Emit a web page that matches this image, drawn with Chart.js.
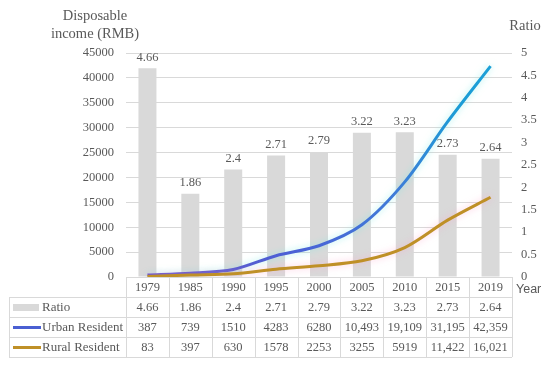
<!DOCTYPE html>
<html>
<head>
<meta charset="utf-8">
<script src="https://cdn.jsdelivr.net/npm/chart.js@4/dist/chart.umd.min.js"></script>
<style>
html,body{margin:0;padding:0;background:#fff}
#wrap{width:550px;height:366px}
</style>
</head>
<body>
<div id="wrap"><canvas id="income"></canvas></div>
<script>
let years=['1979','1985','1990','1995','2000','2005','2010','2015','2019'];
let ratio=[4.66,1.86,2.4,2.71,2.79,3.22,3.23,2.73,2.64];
let urban=[387,739,1510,4283,6280,10493,19109,31195,42359];
let rural=[83,397,630,1578,2253,3255,5919,11422,16021];

let serif='"Liberation Serif", "DejaVu Serif", serif';
let grey='#595959';
let gridCol='#d9d9d9';
let barCol='#d9d9d9';
let ruralCol='#bf9027';

function fmt(n){
    return n>=10000 ? n.toLocaleString('en-US') : String(n);
}

function urbanGrad(c){
    let area=c.chart.chartArea;
    if(!area) return '#4a6cd4';
    let g=c.chart.ctx.createLinearGradient(area.left,0,area.right,0);
    g.addColorStop(0,'#6650c8');
    g.addColorStop(0.45,'#4a62d6');
    g.addColorStop(0.7,'#3f7cd8');
    g.addColorStop(0.85,'#1d9bd6');
    g.addColorStop(1,'#1aa3d8');
    return g;
}

// soft glow behind the two lines
let glow={
    id:'glow',
    beforeDatasetDraw(chart,args){
        let ds=chart.data.datasets[args.index];
        if(ds.type!=='line') return;
        let ctx=chart.ctx;
        ctx.save();
        ctx.shadowColor=ds.glowColor;
        ctx.shadowBlur=7;
    },
    afterDatasetDraw(chart,args){
        let ds=chart.data.datasets[args.index];
        if(ds.type!=='line') return;
        chart.ctx.restore();
    }
};

// ratio labels over the bars + axis titles
let labels={
    id:'labels',
    afterDatasetsDraw(chart){
        let ctx=chart.ctx;
        let meta=chart.getDatasetMeta(0);
        ctx.save();
        ctx.fillStyle=grey;
        ctx.font='12.5px '+serif;
        ctx.textAlign='center';
        ctx.textBaseline='middle';
        meta.data.forEach((bar,i)=>{
            ctx.fillText(String(ratio[i]),bar.x,bar.y-11);
        });
        ctx.font='14.5px '+serif;
        ctx.fillText('Disposable',95,16);
        ctx.fillText('income (RMB)',95,34);
        ctx.fillText('Ratio',525,26);
        ctx.font='12.5px "Liberation Sans", Arial, sans-serif';
        ctx.textAlign='left';
        ctx.fillText('Year',516,290);
        ctx.restore();
    }
};

// data table under the plot
let table={
    id:'table',
    afterDraw(chart){
        let ctx=chart.ctx;
        let a=chart.chartArea;
        let xs=chart.scales.x;
        let step=(a.right-a.left)/years.length;
        let left=9;
        let rows=[a.bottom,a.bottom+20,a.bottom+40,a.bottom+60,a.bottom+80];
        ctx.save();
        ctx.strokeStyle=gridCol;
        ctx.lineWidth=1;
        ctx.beginPath();
        ctx.moveTo(a.left,rows[0]+0.5);ctx.lineTo(a.right,rows[0]+0.5);
        for(let r=1;r<rows.length;r++){
            ctx.moveTo(left,rows[r]+0.5);ctx.lineTo(a.right,rows[r]+0.5);
        }
        ctx.moveTo(left+0.5,rows[1]);ctx.lineTo(left+0.5,rows[4]);
        for(let i=0;i<=years.length;i++){
            let x=Math.round(a.left+i*step)+0.5;
            ctx.moveTo(x,rows[0]);ctx.lineTo(x,rows[4]);
        }
        ctx.stroke();

        ctx.fillStyle=grey;
        ctx.font='12.5px '+serif;
        ctx.textAlign='center';
        ctx.textBaseline='middle';
        years.forEach((y,i)=>{
            let x=xs.getPixelForValue(i);
            ctx.fillText(y,x,rows[0]+10.5);
            ctx.fillText(String(ratio[i]),x,rows[1]+10.5);
            ctx.fillText(fmt(urban[i]),x,rows[2]+10.5);
            ctx.fillText(fmt(rural[i]),x,rows[3]+10.5);
        });

        // legend keys
        ctx.fillStyle=barCol;
        ctx.fillRect(13,rows[1]+7,26,7);
        ctx.lineWidth=3;
        ctx.strokeStyle='#4a5fd2';
        ctx.beginPath();ctx.moveTo(13,rows[2]+10.5);ctx.lineTo(41,rows[2]+10.5);ctx.stroke();
        ctx.strokeStyle=ruralCol;
        ctx.beginPath();ctx.moveTo(13,rows[3]+10.5);ctx.lineTo(41,rows[3]+10.5);ctx.stroke();

        ctx.fillStyle=grey;
        ctx.font='13px '+serif;
        ctx.textAlign='left';
        ctx.fillText('Ratio',42,rows[1]+10.5);
        ctx.fillText('Urban Resident',42,rows[2]+10.5);
        ctx.fillText('Rural Resident',42,rows[3]+10.5);
        ctx.restore();
    }
};

let ctx1=document.getElementById('income').getContext('2d');
let chart1=new Chart(ctx1,{
    data:{
        labels:years,
        datasets:[
            {
                type:'bar',
                label:'Ratio',
                data:ratio,
                yAxisID:'y1',
                backgroundColor:barCol,
                barPercentage:0.42,
                categoryPercentage:1,
                order:2
            },
            {
                type:'line',
                label:'Urban Resident',
                data:urban,
                yAxisID:'y',
                borderColor:urbanGrad,
                glowColor:'rgba(110,235,225,0.55)',
                borderWidth:3,
                pointRadius:0,
                tension:0.3,
                order:1
            },
            {
                type:'line',
                label:'Rural Resident',
                data:rural,
                yAxisID:'y',
                borderColor:ruralCol,
                glowColor:'rgba(255,160,200,0.55)',
                borderWidth:3,
                pointRadius:0,
                tension:0.3,
                order:0
            }
        ]
    },
    options:{
        responsive:true,
        maintainAspectRatio:false,
        animation:false,
        layout:{padding:{top:53,bottom:89,left:0,right:0}},
        plugins:{legend:{display:false},tooltip:{enabled:false}},
        scales:{
            x:{display:false,offset:true},
            y:{
                position:'left',
                min:0,max:45000,
                ticks:{stepSize:5000,color:grey,font:{family:serif,size:12.5},padding:12,
                    callback:v=>String(v)},
                grid:{color:gridCol,drawTicks:false},
                border:{display:false},
                afterFit(s){s.width=126;}
            },
            y1:{
                position:'right',
                min:0,max:5,
                ticks:{stepSize:0.5,color:grey,font:{family:serif,size:12.5},padding:9,
                    callback:v=>String(Math.round(v*10)/10)},
                grid:{drawOnChartArea:false,drawTicks:false},
                border:{display:false},
                afterFit(s){s.width=38;}
            }
        }
    },
    plugins:[glow,labels,table]
});
</script>
</body>
</html>
